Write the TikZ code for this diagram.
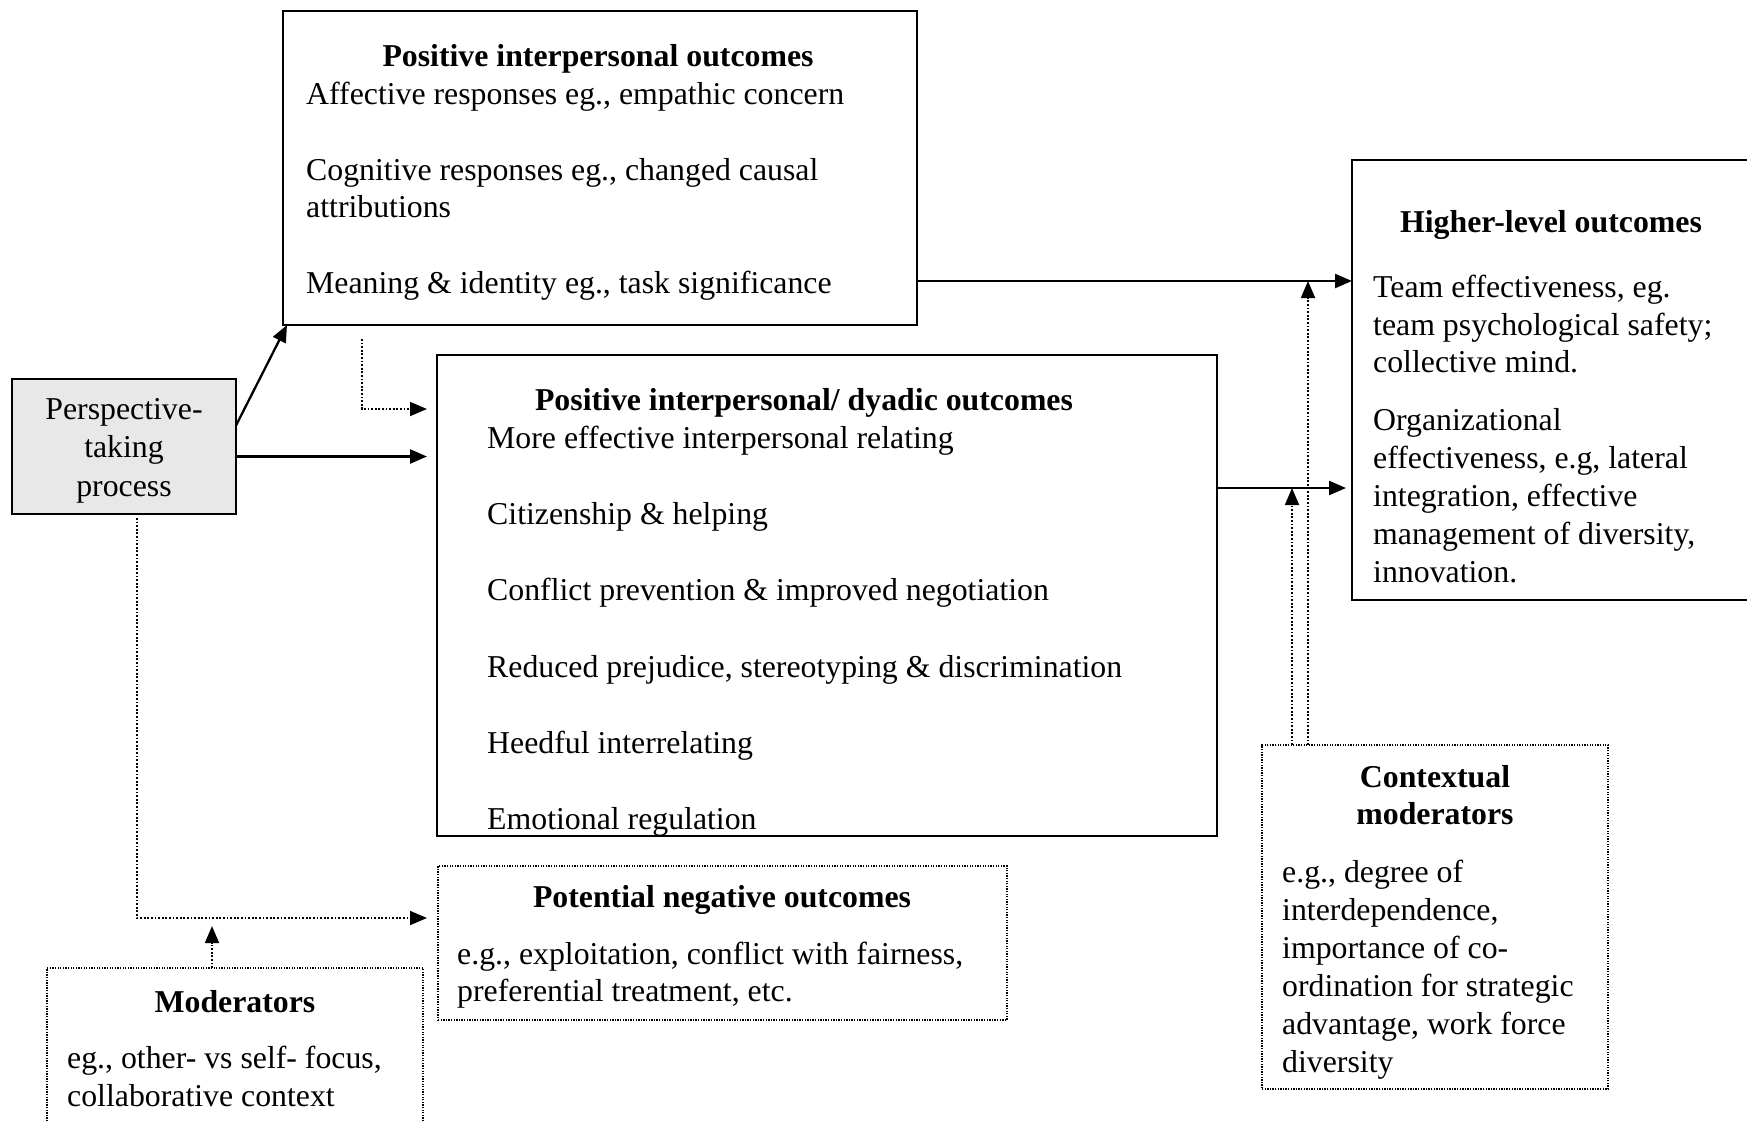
\documentclass[tikz,border=0pt]{standalone}
\usepackage{fontspec}
\setmainfont{Liberation Serif}
\usetikzlibrary{arrows.meta,calc}
\definecolor{ptgray}{RGB}{232,232,232}
\newcommand\bigtxt{\fontsize{31.8}{38}\selectfont}
\begin{document}
\begin{tikzpicture}[x=1pt,y=-1pt,
  box/.style={draw, line width=1.6pt, anchor=north west, inner sep=0pt, outer sep=0pt},
  dbox/.style={draw, line width=1.3pt, dash pattern=on 1.3pt off 1.3pt, anchor=north west, inner sep=0pt, outer sep=0pt},
  txt/.style={anchor=west, inner sep=0pt, text height=22pt, text depth=8pt, font=\bigtxt},
  ctxt/.style={anchor=center, inner sep=0pt, text height=22pt, text depth=8pt, font=\bigtxt},
  hd/.style={anchor=center, inner sep=0pt, text height=22pt, text depth=8pt, font=\bigtxt\bfseries},
  arr/.style={line width=2.3pt, -{Triangle[length=17pt,width=14pt]}},
  darr/.style={line width=1.8pt, dash pattern=on 1.8pt off 1.8pt, -{Triangle[length=17pt,width=14pt]}},
]
\useasboundingbox (0,0) rectangle (1747,1122);
\fill[white] (0,0) rectangle (1747,1122);
\clip (0,0) rectangle (1747,1122);

% boxes
\node[box, minimum width=634pt, minimum height=314pt] (top) at (283,11) {};
\node[box, fill=ptgray, minimum width=224pt, minimum height=135pt] (pt) at (12,379) {};
\node[box, minimum width=780pt, minimum height=481pt] (mid) at (437,355) {};
\node[box, minimum width=460pt, minimum height=440pt] (high) at (1352,160) {};
\node[dbox, minimum width=569pt, minimum height=154pt] (neg) at (438,866) {};
\node[dbox, minimum width=376pt, minimum height=240pt] (mod) at (47,968) {};
\node[dbox, minimum width=346pt, minimum height=344pt] (ctx) at (1262,745) {};

\begin{scope}[yshift=-3.5pt]
% texts: top box
\node[hd] (topH) at (598,56) {Positive interpersonal outcomes};
\node[txt] (top1) at (306,94) {Affective responses eg., empathic concern};
\node[txt] (top2) at (306,170) {Cognitive responses eg., changed causal};
\node[txt] (top3) at (306,207) {attributions};
\node[txt] (top4) at (306,283) {Meaning \& identity eg., task significance};

% perspective
\node[ctxt] (pt1) at (124,409) {Perspective-};
\node[ctxt] (pt2) at (124,447) {taking};
\node[ctxt] (pt3) at (124,486) {process};

% middle box
\node[hd] (midH) at (804,400) {Positive interpersonal/ dyadic outcomes};
\foreach \t [count=\i] in {{More effective interpersonal relating},{Citizenship \& helping},{Conflict prevention \& improved negotiation},{Reduced prejudice, stereotyping \& discrimination},{Heedful interrelating},{Emotional regulation}}
  \node[txt] (mid\i) at (487,{438+(\i-1)*76.2}) {\t};

% higher-level box
\node[hd] (highH) at (1551,222) {Higher-level outcomes};
\foreach \t/\yy [count=\i] in {{Team effectiveness, eg.}/287,{team psychological safety;}/325,{collective mind.}/362,{Organizational}/420,{effectiveness, e.g, lateral}/458,{integration, effective}/496,{management of diversity,}/534,{innovation.}/572}
  \node[txt] (high\i) at (1373,\yy) {\t};

% negative box
\node[hd] (negH) at (722,897) {Potential negative outcomes};
\node[txt] (neg1) at (457,954) {e.g., exploitation, conflict with fairness,};
\node[txt] (neg2) at (457,991) {preferential treatment, etc.};

% moderators box
\node[hd] (modH) at (235,1002) {Moderators};
\node[txt] (mod1) at (67,1058) {eg., other- vs self- focus,};
\node[txt] (mod2) at (67,1096) {collaborative context};

% contextual moderators
\node[hd] (ctxH1) at (1435,777) {Contextual};
\node[hd] (ctxH2) at (1435,814) {moderators};
\foreach \t [count=\i] in {{e.g., degree of},{interdependence,},{importance of co-},{ordination for strategic},{advantage, work force},{diversity}}
  \node[txt] (ctx\i) at (1282,{872+(\i-1)*37.9}) {\t};
\end{scope}

% helper coordinates
\coordinate (y1) at (0,281);
\coordinate (y2) at (0,488);
\coordinate (modtip) at (212,926);

% connectors
\draw[arr] ([yshift=21pt]pt.east) -- ([xshift=4pt]top.south west);
\draw[arr] ([yshift=-10pt]pt.east) -- ([xshift=-10pt,yshift=-10pt]mid.west |- pt.east);
\draw[darr] ([xshift=79pt,yshift=-14pt]top.south west) |- ([xshift=-10pt,yshift=-54pt]mid.north west);
\draw[darr] ([xshift=13pt,yshift=-4pt]pt.south) |- ([xshift=-11pt,yshift=25pt]neg.west);
\draw[darr] ([xshift=-23pt]mod.north) -- (modtip);
\draw[arr] (top.east |- y1) -- (high.west |- y1);
\draw[arr] (mid.east |- y2) -- ([xshift=-6pt]high.west |- y2);
\draw[darr] ([xshift=30pt]ctx.north west) -- ([xshift=30pt]ctx.north west |- y2);
\draw[darr] ([xshift=46pt]ctx.north west) -- ([xshift=46pt]ctx.north west |- y1);
\end{tikzpicture}
\end{document}
